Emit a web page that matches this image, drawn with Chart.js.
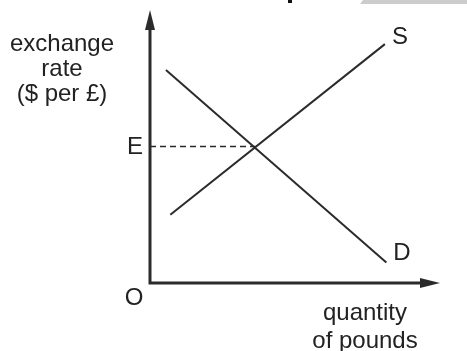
<!DOCTYPE html>
<html>
<head>
<meta charset="utf-8">
<script src="https://cdn.jsdelivr.net/npm/chart.js@4.4.0/dist/chart.umd.min.js"></script>
<style>
  html, body { margin: 0; padding: 0; background: #fff; }
  #wrap { width: 467px; height: 351px; }
</style>
</head>
<body>
<div id="wrap"><canvas id="fxChart"></canvas></div>
<script>
// supply and demand for pounds (arbitrary units, axes 0..10)
var supplyX = [0.7, 8.1];
var supplyY = [2.5, 8.75];
var demandX = [0.55, 8.15];
var demandY = [7.8, 0.75];
var eqX = 3.62;
var eqY = 5;

var yTitle = ['exchange', 'rate', '($ per £)'];
var xTitle = ['quantity', 'of pounds'];

var inkColor = '#2b2b2b';
var textColor = '#222';

function toPoints(xs, ys) {
    return xs.map(function (x, i) { return { x: x, y: ys[i] }; });
}

// axes with arrowheads + text labels
const diagramPlugin = {
    id: 'diagram',
    afterDatasetsDraw(chart) {
        const ctx = chart.ctx;
        const xs = chart.scales.x;
        const ys = chart.scales.y;
        const ox = xs.getPixelForValue(0);
        const oy = ys.getPixelForValue(0);
        const xEnd = xs.getPixelForValue(10);
        const yEnd = ys.getPixelForValue(10);

        ctx.save();
        ctx.strokeStyle = inkColor;
        ctx.fillStyle = inkColor;
        ctx.lineWidth = 3;
        ctx.beginPath();
        ctx.moveTo(ox, yEnd + 12);
        ctx.lineTo(ox, oy);
        ctx.lineTo(xEnd - 12, oy);
        ctx.stroke();

        // arrow heads
        ctx.beginPath();
        ctx.moveTo(ox, yEnd);
        ctx.lineTo(ox - 5, yEnd + 20);
        ctx.lineTo(ox + 5, yEnd + 20);
        ctx.closePath();
        ctx.fill();
        ctx.beginPath();
        ctx.moveTo(xEnd, oy);
        ctx.lineTo(xEnd - 20, oy - 5);
        ctx.lineTo(xEnd - 20, oy + 5);
        ctx.closePath();
        ctx.fill();

        // text
        ctx.fillStyle = textColor;
        ctx.font = '24px "Liberation Sans", Arial, sans-serif';
        ctx.textAlign = 'center';
        ctx.textBaseline = 'alphabetic';
        yTitle.forEach(function (t, i) { ctx.fillText(t, 62, 51 + i * 25); });
        xTitle.forEach(function (t, i) { ctx.fillText(t, 365, 320 + i * 28); });

        ctx.textBaseline = 'middle';
        ctx.fillText('E', ox - 15, ys.getPixelForValue(eqY) + 1);
        ctx.fillText('O', ox - 16, oy + 15);
        ctx.textAlign = 'left';
        ctx.fillText('S', xs.getPixelForValue(supplyX[1]) + 7, ys.getPixelForValue(supplyY[1]) - 7);
        ctx.fillText('D', xs.getPixelForValue(demandX[1]) + 7, ys.getPixelForValue(demandY[1]) - 9);

        // bits of the page edge above the figure
        ctx.fillStyle = '#111';
        ctx.fillRect(288, 0, 4, 3);
        ctx.fillStyle = '#cccccc';
        ctx.beginPath();
        ctx.moveTo(363, 0);
        ctx.lineTo(467, 0);
        ctx.lineTo(467, 4);
        ctx.lineTo(360, 4);
        ctx.closePath();
        ctx.fill();
        ctx.restore();
    }
};

const fxCtx = document.getElementById('fxChart').getContext('2d');
const fxChart = new Chart(fxCtx, {
    type: 'scatter',
    data: {
        datasets: [{
            label: 'S',
            data: toPoints(supplyX, supplyY),
            showLine: true,
            borderColor: inkColor,
            borderWidth: 2,
            pointRadius: 0
        }, {
            label: 'D',
            data: toPoints(demandX, demandY),
            showLine: true,
            borderColor: inkColor,
            borderWidth: 2,
            pointRadius: 0
        }, {
            label: 'E',
            data: [{ x: 0, y: eqY }, { x: eqX, y: eqY }],
            showLine: true,
            borderColor: inkColor,
            borderWidth: 1.3,
            borderDash: [6, 4],
            pointRadius: 0
        }]
    },
    options: {
        responsive: true,
        maintainAspectRatio: false,
        animation: false,
        layout: { padding: { left: 150, right: 27, top: 10, bottom: 68 } },
        plugins: { legend: { display: false }, tooltip: { enabled: false } },
        scales: {
            x: { type: 'linear', min: 0, max: 10, display: false },
            y: { type: 'linear', min: 0, max: 10, display: false }
        }
    },
    plugins: [diagramPlugin]
});
</script>
</body>
</html>
